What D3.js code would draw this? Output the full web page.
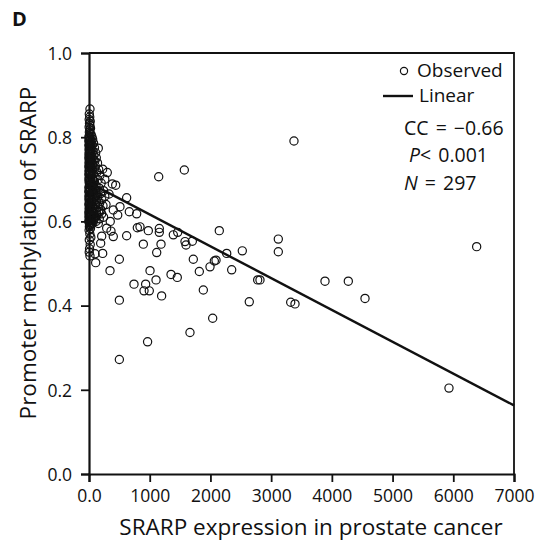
<!DOCTYPE html>
<html><head><meta charset="utf-8">
<script src="https://cdn.jsdelivr.net/npm/d3@7"></script>
<style>body{margin:0;background:#fff}svg{display:block}text{font-family:"Open Sans",sans-serif;fill:#111}</style>
</head><body>
<svg id="chart" width="536" height="544"></svg>
<script>
const xTicks = [0,1000,2000,3000,4000,5000,6000,7000];
const xTickLabels = ["0.0","1000","2000","3000","4000","5000","6000","7000"];
const yTicks = [0,0.2,0.4,0.6,0.8,1.0];
const yTickLabels = ["0.0","0.2","0.4","0.6","0.8","1.0"];
const fitLine = [[0,0.692],[7000,0.163]];
const statLines = [["","CC = \u22120.66"],["P","< 0.001"],["N"," = 297"]];

const observedSparse = [
[1148,0.706],[1570,0.722],[153,0.774],[16,0.867],[225,0.724],[301,0.716],[384,0.689],[440,0.686],
[620,0.656],[510,0.635],[400,0.627],[664,0.623],[785,0.618],[473,0.615],[181,0.623],[209,0.618],
[153,0.595],[291,0.584],[362,0.577],[400,0.564],[209,0.565],[192,0.548],[620,0.566],[796,0.585],
[840,0.587],[977,0.578],[1158,0.583],[1158,0.574],[1389,0.568],[1461,0.574],[895,0.546],[1186,0.546],
[1581,0.552],[1598,0.544],[1702,0.553],[2146,0.578],[2525,0.530],[2268,0.524],[1115,0.526],[99,0.523],
[225,0.524],[500,0.510],[1718,0.510],[110,0.502],[346,0.483],[1005,0.483],[1104,0.461],[741,0.451],
[933,0.451],[906,0.435],[993,0.435],[1196,0.423],[1351,0.474],[1454,0.467],[1817,0.481],[1993,0.492],
[2064,0.506],[2092,0.508],[1883,0.437],[2350,0.485],[2778,0.461],[2640,0.409],[500,0.413],[2037,0.370],
[1663,0.336],[965,0.314],[500,0.272],[3376,0.791],[3118,0.558],[3118,0.528],[6385,0.540],[2816,0.461],
[3322,0.408],[3393,0.404],[3887,0.458],[4271,0.458],[4546,0.417],[5929,0.204],
[260,0.700],[330,0.665],[280,0.640],[350,0.600],[240,0.610]
];
const observedClusterTop = [
[5,0.855],[12,0.848],[3,0.842],[20,0.838],[8,0.833],[15,0.828],[2,0.824],[25,0.821],[10,0.817],[6,0.812],
[18,0.809],[35,0.806],[4,0.803],[48,0.801],[12,0.798],[60,0.795],[28,0.793],[2,0.790],[40,0.788],[75,0.786],
[15,0.784],[55,0.781],[8,0.779],[30,0.777],[90,0.775],[22,0.772],[45,0.770],[5,0.768],[65,0.766],[110,0.763]
];
const observedClusterMid = [
[14,0.761],[38,0.759],[80,0.757],[3,0.755],[52,0.753],[120,0.751],[26,0.749],[70,0.747],[9,0.745],[95,0.743],
[42,0.741],[140,0.739],[18,0.737],[60,0.735],[1,0.733],[105,0.731],[33,0.729],[85,0.727],[11,0.725],[160,0.723],
[48,0.721],[7,0.719],[130,0.717],[24,0.715],[72,0.713],[2,0.711],[180,0.709],[36,0.707],[100,0.705],[15,0.703],
[58,0.701],[150,0.699],[5,0.697],[88,0.695],[28,0.693],[200,0.691],[44,0.689],[12,0.687],[115,0.685],[66,0.683]
];
const observedClusterLow = [
[3,0.681],[170,0.679],[22,0.678],[95,0.676],[8,0.675],[240,0.673],[50,0.672],[130,0.670],[1,0.669],[75,0.667],
[190,0.666],[30,0.664],[110,0.663],[6,0.661],[260,0.660],[55,0.658],[145,0.657],[17,0.655],[85,0.654],[210,0.652],
[2,0.651],[40,0.649],[125,0.648],[70,0.646],[12,0.645],[175,0.643],[33,0.642],[100,0.640],[4,0.639],[230,0.637],
[60,0.636],[150,0.634],[20,0.633],[90,0.631],[9,0.630],[195,0.628],[45,0.627],[120,0.625],[1,0.624],[68,0.622],
[160,0.621],[27,0.619],[80,0.618],[5,0.616],[135,0.615],[38,0.613],[14,0.612],[105,0.610],[2,0.609],[52,0.607],
[170,0.606],[24,0.604],[78,0.603],[7,0.601],[115,0.600],[35,0.598],[3,0.597],[62,0.595],[18,0.593],[10,0.590]
];
const observedClusterCore = [
[0,0.800],[0,0.780],[0,0.760],[0,0.740],[0,0.720],[0,0.700],[0,0.680],[0,0.660],[0,0.640],[0,0.620],[0,0.600],
[1,0.791],[1,0.772],[1,0.751],[1,0.729],[1,0.712],[2,0.693],[2,0.672],[2,0.654],[2,0.631],[2,0.612],
[4,0.796],[9,0.792],[16,0.786],[3,0.782],[26,0.774],[11,0.770],[6,0.764],[32,0.758],[19,0.752],[2,0.748],
[44,0.744],[13,0.738],[28,0.734],[5,0.728],[56,0.724],[21,0.718],[9,0.714],[40,0.708],[3,0.704],[64,0.698],
[17,0.694],[31,0.690],[7,0.686],[50,0.682],[14,0.677],[3,0.671],[37,0.668],[25,0.662],[10,0.656],[46,0.650],
[4,0.644],[29,0.638],[15,0.632],[58,0.626],[8,0.620],[34,0.614],[19,0.608],[3,0.603],[42,0.596],[12,0.592],
[6,0.587],[24,0.583],[2,0.579],[14,0.570],[30,0.562],[5,0.556],[20,0.545],[9,0.535],[4,0.527],[16,0.518],
[65,0.700],[72,0.690],[84,0.680],[92,0.660],[102,0.650],[112,0.640],[66,0.630],[76,0.620],[88,0.610]
];

const observed = [].concat(observedSparse, observedClusterTop, observedClusterMid, observedClusterLow, observedClusterCore);

const svg = d3.select("#chart");
const L = 89, R = 514, T = 53, B = 474;
const x = d3.scaleLinear().domain([0,7000]).range([L,R]);
const y = d3.scaleLinear().domain([0,1]).range([B,T]);

// frame (top and right)
svg.append("path").attr("d",`M${L},${T}H${R}V${B}`).attr("fill","none").attr("stroke","#111").attr("stroke-width",1.8);

// points
svg.append("g").selectAll("circle").data(observed).join("circle")
  .attr("cx",d=>x(d[0])).attr("cy",d=>y(d[1])).attr("r",4.1)
  .attr("fill","none").attr("stroke","#111").attr("stroke-width",1.2);

// fit line
svg.append("path").datum(fitLine).attr("d",d3.line().x(d=>x(d[0])).y(d=>y(d[1])))
  .attr("fill","none").attr("stroke","#111").attr("stroke-width",2.4);

// axes
const xAxis = svg.append("g").attr("transform",`translate(0,${B})`)
  .call(d3.axisBottom(x).tickValues(xTicks).tickFormat((d,i)=>xTickLabels[i]).tickSizeOuter(0).tickSize(8).tickPadding(8));
const yAxis = svg.append("g").attr("transform",`translate(${L},0)`)
  .call(d3.axisLeft(y).tickValues(yTicks).tickFormat((d,i)=>yTickLabels[i]).tickSizeOuter(0).tickSize(8).tickPadding(9));
[xAxis,yAxis].forEach(g=>{
  g.select(".domain").attr("stroke","#111").attr("stroke-width",2.2);
  g.selectAll(".tick line").attr("stroke","#111").attr("stroke-width",1.8);
  g.selectAll(".tick text").attr("font-size",17.5).attr("font-family","'Open Sans',sans-serif").attr("fill","#111");
});
yAxis.selectAll(".tick text").attr("dy","0.36em");

// axis titles
svg.append("text").attr("x",311).attr("y",535).attr("text-anchor","middle").attr("font-size",22.5)
  .text("SRARP expression in prostate cancer");
svg.append("text").attr("transform","translate(36,253) rotate(-90)").attr("text-anchor","middle").attr("font-size",22.5)
  .text("Promoter methylation of SRARP");

// panel label
svg.append("text").attr("x",12).attr("y",26).attr("font-size",20).attr("font-weight","bold").text("D");

// legend
svg.append("circle").attr("cx",404).attr("cy",71).attr("r",3.6).attr("fill","none").attr("stroke","#111").attr("stroke-width",1.2);
svg.append("text").attr("x",417).attr("y",77).attr("font-size",19).text("Observed");
svg.append("line").attr("x1",383).attr("x2",413).attr("y1",96).attr("y2",96).attr("stroke","#111").attr("stroke-width",2.4);
svg.append("text").attr("x",419).attr("y",102).attr("font-size",19).text("Linear");

// stats
const st = svg.append("g").attr("font-size",19.5);
const statPos = [[404,135],[409,162],[404,190]];
statLines.forEach((s,i)=>{
  const t = st.append("text").attr("x",statPos[i][0]).attr("y",statPos[i][1]).attr("word-spacing",2);
  if (s[0]) t.append("tspan").attr("font-style","italic").text(s[0]);
  t.append("tspan").text(s[1]);
});
</script>
</body></html>
